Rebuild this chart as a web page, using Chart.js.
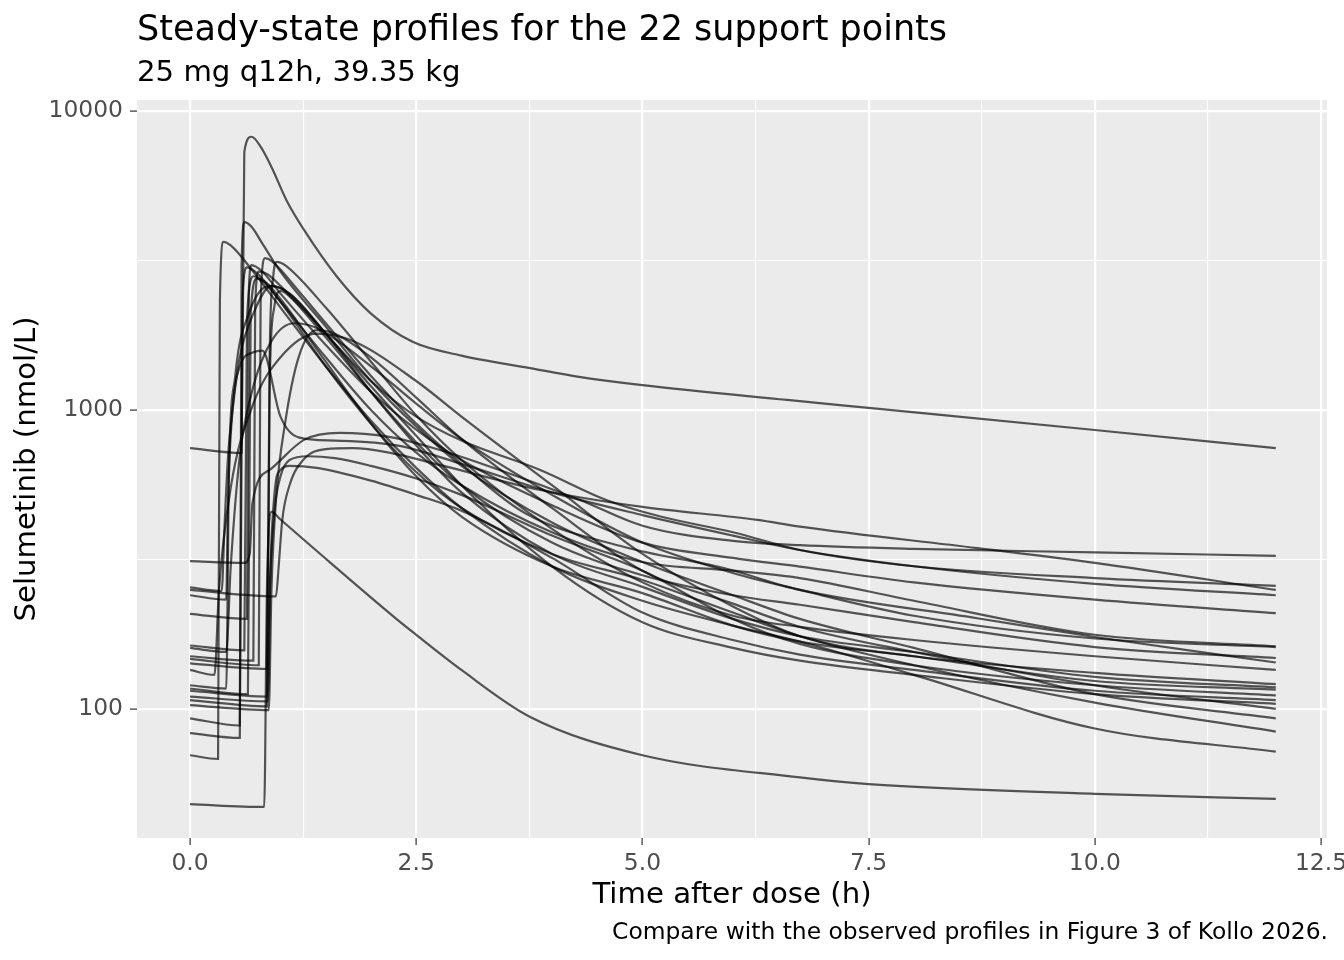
<!DOCTYPE html>
<html>
<head>
<meta charset="utf-8">
<title>Steady-state profiles</title>
<script src="https://cdn.jsdelivr.net/npm/chart.js@4.4.1/dist/chart.umd.min.js"></script>
<style>
  html, body { margin: 0; padding: 0; background: #fff; }
  #wrap { position: relative; width: 1344px; height: 960px; overflow: hidden; font-family: "DejaVu Sans", sans-serif; color: #000; }
  #chart { position: absolute; left: 0; top: 0; }
  .txt { position: absolute; line-height: 1; white-space: nowrap; }
  #title { left: 137px; top: 11px; font-size: 35px; }
  #subtitle { left: 137px; top: 57px; font-size: 29.2px; }
  #caption { right: 16px; top: 920px; font-size: 23.4px; }
</style>
</head>
<body>
<div id="wrap">
  <canvas id="chart" width="1344" height="960"></canvas>
  <div class="txt" id="title">Steady-state profiles for the 22 support points</div>
  <div class="txt" id="subtitle">25 mg q12h, 39.35 kg</div>
  <div class="txt" id="caption">Compare with the observed profiles in Figure 3 of Kollo 2026.</div>
</div>
<script>
// [time after dose (h), concentration (nmol/L)] for each support point
var sp01 = [[0,745],[0.57,718],[0.6,7300],[0.68,8200],[0.78,7600],[0.9,6500],[1.07,5000],[1.26,4000],[1.62,2800],[2,2100],[2.46,1690],[3,1520],[3.76,1380],[4.3,1290],[5,1210],[6.6,1080],[7.5,1016],[10,857],[12,745]];
var sp02 = [[0,312],[0.6,308],[0.66,330],[0.69,489],[0.88,630],[1.26,794],[1.65,838],[2.2,813],[2.65,752],[3.2,665],[4.31,500],[5,410],[6,365],[6.74,353],[8,343],[10,334],[12,325]];
var sp03 = [[0,250],[0.95,238],[0.98,300],[1.02,430],[1.1,560],[1.25,680],[1.5,740],[1.8,745],[2.2,720],[2.8,650],[3.87,540],[5,474],[6.27,429],[6.74,407],[8.7,345],[10,308],[12,250]];
var sp04 = [[0,255],[0.35,248],[0.38,400],[0.42,700],[0.47,1000],[0.55,1500],[0.7,2100],[0.9,2600],[1.1,2450],[1.5,1800],[2,1250],[2.5,950],[3,790],[3.87,630],[4.6,500],[5.2,440],[6,390],[6.74,340],[8,300],[10,274],[12,258]];
var sp05 = [[0,240],[0.4,232],[0.42,500],[0.47,1000],[0.55,1400],[0.7,1560],[0.8,1580],[1,950],[1.2,810],[1.6,790],[2.3,760],[3,660],[4,530],[5,445],[6,380],[6.74,340],[8,300],[10,262],[12,240]];
var sp06 = [[0,208],[0.63,200],[0.65,2500],[0.68,3050],[0.8,2900],[1,2450],[1.5,1650],[2,1150],[2.5,860],[3,680],[4,480],[5,360],[6,320],[6.74,299],[8,265],[10,232],[12,209]];
var sp07 = [[0,163],[0.6,157],[0.63,2000],[0.7,2800],[0.8,2700],[1,2300],[1.5,1500],[2,1000],[2.5,720],[3,560],[4,390],[5,310],[6,290],[6.74,274],[8,230],[10,177],[12,162]];
var sp08 = [[0,160],[0.4,155],[0.45,300],[0.55,700],[0.7,1200],[0.9,1700],[1.15,1950],[1.4,1880],[2,1400],[2.5,1050],[3,800],[4,520],[5,360],[6,285],[6.74,250],[8,205],[10,172],[12,161]];
var sp09 = [[0,150],[0.7,145],[0.72,2200],[0.76,2900],[0.85,2850],[1,2600],[1.5,1750],[2,1150],[2.5,780],[3,560],[4,360],[5,280],[6,240],[6.74,223],[8,195],[10,161],[12,148]];
var sp10 = [[0,147],[0.76,140],[0.78,2300],[0.83,3220],[0.9,3150],[1.2,2500],[1.5,1950],[2,1300],[2.5,900],[3,660],[3.7,452],[4.8,348],[5.9,296],[6.74,250],[8.7,201],[10,174],[12,143]];
var sp11 = [[0,142],[0.85,136],[0.88,1500],[0.92,2800],[0.96,3130],[1.05,3050],[1.5,2200],[2,1450],[2.5,960],[3,680],[4,400],[5,265],[6,205],[6.74,188],[8,170],[10,150],[12,135]];
var sp12 = [[0,135],[0.27,130],[0.32,250],[0.45,550],[0.7,1050],[1,1500],[1.4,1800],[1.8,1700],[2.5,1250],[3,950],[4,560],[5,330],[6,220],[6.74,175],[8,150],[10,132],[12,121]];
var sp13 = [[0,120],[0.4,117],[0.43,600],[0.5,1300],[0.65,2100],[0.88,2600],[1.1,2450],[1.5,1800],[2,1150],[2.5,760],[3,530],[4,330],[5,256],[6,200],[6.74,175],[8,155],[10,128],[12,118]];
var sp14 = [[0,117],[0.64,112],[0.67,2100],[0.74,2750],[0.85,2650],[1,2350],[1.5,1450],[2,900],[2.5,600],[3,440],[4,300],[5,244],[6,190],[6.74,168],[8,150],[10,124],[12,116]];
var sp15 = [[0,115],[0.85,110],[0.88,250],[0.93,450],[1,600],[1.1,680],[1.3,700],[1.6,690],[2,650],[2.5,590],[3,520],[4,380],[5,290],[6,200],[6.74,165],[8,140],[10,120],[12,111]];
var sp16 = [[0,110],[0.86,106],[0.89,300],[0.94,550],[1,630],[1.1,650],[1.4,640],[2,580],[2.5,520],[3,460],[4,320],[5,210],[6,170],[6.74,152],[8,135],[10,115],[12,107]];
var sp17 = [[0,107],[0.85,102],[0.88,1200],[0.93,2200],[1,2500],[1.1,2400],[1.5,1800],[2,1200],[2.5,820],[3,560],[4,300],[5,195],[6,160],[6.74,145],[8,130],[10,112],[12,104]];
var sp18 = [[0,103],[0.87,99],[0.9,250],[0.95,500],[1.05,900],[1.2,1500],[1.4,1850],[1.6,1800],[2,1500],[2.5,1100],[3,800],[4,470],[5,290],[6,225],[6.74,188],[8,155],[10,120],[12,100]];
var sp19 = [[0,93],[0.55,88],[0.57,3000],[0.6,4250],[0.68,4100],[0.8,3600],[1,2900],[1.5,1900],[2,1250],[2.5,880],[3,650],[4,420],[5,310],[6,240],[6.74,200],[8,160],[10,112],[12,93]];
var sp20 = [[0,83],[0.55,80],[0.58,2400],[0.63,3000],[0.75,2850],[1,2300],[1.5,1400],[2,900],[2.5,620],[3,470],[4,330],[5,270],[6,210],[6.74,175],[8,140],[10,105],[12,84]];
var sp21 = [[0,70],[0.31,68],[0.33,2300],[0.37,3650],[0.45,3550],[0.7,2900],[1,2200],[1.5,1400],[2,920],[2.5,640],[3,470],[4,300],[5,230],[6,190],[6.74,168],[8,130],[10,86],[12,72]];
var sp22 = [[0,48],[0.82,47],[0.85,250],[0.9,456],[1,430],[1.35,348],[2.29,199],[2.5,177],[3,135],[3.76,94],[5,70],[6.74,59],[7.5,56],[10,52],[12,50]];

var supportPoints = [sp01, sp02, sp03, sp04, sp05, sp06, sp07, sp08, sp09, sp10, sp11,
                     sp12, sp13, sp14, sp15, sp16, sp17, sp18, sp19, sp20, sp21, sp22];

// axis breaks (major + minor, ggplot style)
var xBreaks = [0, 1.25, 2.5, 3.75, 5, 6.25, 7.5, 8.75, 10, 11.25, 12.5];
var xMajor = [0, 2.5, 5, 7.5, 10, 12.5];
var yBreaks = [100, 316.23, 1000, 3162.28, 10000];
var yMajor = [100, 1000, 10000];

function isMajorX(v) { return xMajor.indexOf(v) !== -1; }
function isMajorY(v) { return yMajor.indexOf(v) !== -1; }

var panelBackground = {
    id: 'panelBackground',
    beforeDraw: function(chart) {
        var a = chart.chartArea;
        var ctx = chart.ctx;
        ctx.save();
        ctx.fillStyle = '#EBEBEB';
        ctx.fillRect(a.left, a.top, a.right - a.left, a.bottom - a.top);
        ctx.restore();
    }
};

var datasets = supportPoints.map(function(p, i) {
    return {
        label: 'SP ' + (i + 1),
        data: p.map(function(d) { return { x: d[0], y: d[1] }; }),
        borderColor: 'rgba(0, 0, 0, 0.65)',
        borderWidth: 2.2,
        pointRadius: 0,
        fill: false,
        cubicInterpolationMode: 'monotone'
    };
});

var tickFont = { family: 'DejaVu Sans', size: 23.4 };
var titleFont = { family: 'DejaVu Sans', size: 29.2 };

var ctx = document.getElementById('chart').getContext('2d');
var myChart = new Chart(ctx, {
    type: 'line',
    data: { datasets: datasets },
    plugins: [panelBackground],
    options: {
        responsive: false,
        animation: false,
        devicePixelRatio: 1,
        layout: { padding: { left: 0, right: 17, top: 100, bottom: 47 } },
        plugins: {
            legend: { display: false },
            tooltip: { enabled: false }
        },
        scales: {
            x: {
                type: 'linear',
                min: -0.586,
                max: 12.566,
                afterBuildTicks: function(s) { s.ticks = xBreaks.map(function(v) { return { value: v }; }); },
                afterFit: function(s) { s.height = 75; s.paddingLeft = 0; s.paddingRight = 0; },
                border: { display: false },
                grid: {
                    color: '#FFFFFF',
                    lineWidth: function(c) { return isMajorX(c.tick.value) ? 2.2 : 1.1; },
                    tickColor: function(c) { return isMajorX(c.tick.value) ? '#333333' : 'rgba(0,0,0,0)'; },
                    tickLength: 7,
                    tickWidth: 1.2
                },
                ticks: {
                    color: '#4D4D4D',
                    font: tickFont,
                    padding: 5,
                    maxRotation: 0,
                    autoSkip: false,
                    callback: function(v) { return isMajorX(v) ? v.toFixed(1) : ''; }
                },
                title: {
                    display: true,
                    text: 'Time after dose (h)',
                    color: '#000',
                    font: titleFont,
                    padding: { top: 0, bottom: 0 }
                }
            },
            y: {
                type: 'logarithmic',
                min: 37,
                max: 10884,
                afterBuildTicks: function(s) { s.ticks = yBreaks.map(function(v) { return { value: v }; }); },
                afterFit: function(s) { s.width = 137; s.paddingTop = 0; s.paddingBottom = 0; },
                border: { display: false },
                grid: {
                    color: '#FFFFFF',
                    lineWidth: function(c) { return isMajorY(c.tick.value) ? 2.2 : 1.1; },
                    tickColor: function(c) { return isMajorY(c.tick.value) ? '#333333' : 'rgba(0,0,0,0)'; },
                    tickLength: 7,
                    tickWidth: 1.2
                },
                ticks: {
                    color: '#4D4D4D',
                    font: tickFont,
                    padding: 7,
                    autoSkip: false,
                    callback: function(v) { return isMajorY(v) ? String(v) : ''; }
                },
                title: {
                    display: true,
                    text: 'Selumetinib (nmol/L)',
                    color: '#000',
                    font: titleFont,
                    padding: { top: 10, bottom: 0 }
                }
            }
        }
    }
});
</script>
</body>
</html>
